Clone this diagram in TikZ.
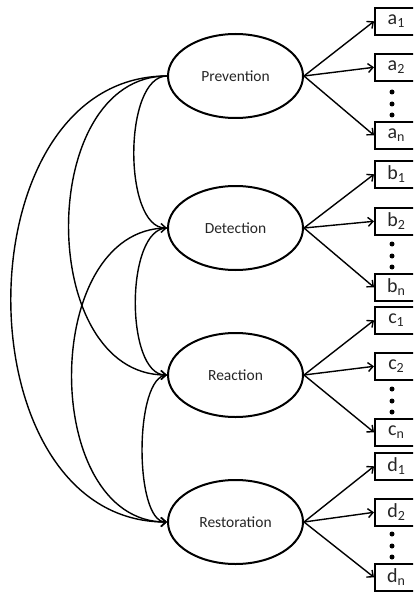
\documentclass[tikz,border=0pt]{standalone}
\usepackage{fontspec}
\setmainfont{Carlito}
\usetikzlibrary{shapes.geometric,arrows.meta}
\begin{document}
\begin{tikzpicture}[x=1pt,y=-1pt,
  factor/.style={draw,ellipse,line width=2pt,minimum width=135pt,minimum height=84pt,inner sep=0pt,font=\fontsize{15.5}{18}\selectfont,text=black!85},
  item/.style={draw,rectangle,line width=1.6pt,minimum width=43pt,minimum height=27pt,inner sep=0pt,anchor=north west,font=\fontsize{20}{22}\selectfont,text=black!85},
  link/.style={line width=1.4pt,-{Straight Barb[length=5pt,width=9pt]}},
  dotmark/.style={circle,fill=black,inner sep=0pt,minimum size=5pt}]
\useasboundingbox (0,0) rectangle (413,596);
\clip (0,0) rectangle (413,596);
\fill[white] (0,0) rectangle (413,596);
% factors
\node[factor] (prev) at (235.5,76) {Prevention};
\node[factor] (det) at (235.5,228) {Detection};
\node[factor] (reac) at (235.5,375) {Reaction};
\node[factor] (rest) at (235.5,522) {Restoration};
% indicator boxes
\node[item] (a1) at (374,7) {a\textsubscript{1}};
\node[item] (a2) at (374,53) {a\textsubscript{2}};
\node[item] (an) at (374,121) {a\textsubscript{n}};
\node[item] (b1) at (374,160) {b\textsubscript{1}};
\node[item] (b2) at (374,207) {b\textsubscript{2}};
\node[item] (bn) at (374,273) {b\textsubscript{n}};
\node[item] (c1) at (374,306) {c\textsubscript{1}};
\node[item] (c2) at (374,352) {c\textsubscript{2}};
\node[item] (cn) at (374,418) {c\textsubscript{n}};
\node[item] (d1) at (374,452) {d\textsubscript{1}};
\node[item] (d2) at (374,498) {d\textsubscript{2}};
\node[item] (dn) at (374,563) {d\textsubscript{n}};
% dots
\foreach \g/\t in {a/121,b/273,c/418,d/563}{
  \node[dotmark] (\g dot1) at (392,\t-29) {};
  \node[dotmark] (\g dot2) at (392,\t-17) {};
  \node[dotmark] (\g dot3) at (392,\t-6) {};
}
% loadings
\foreach \f/\g in {prev/a,det/b,reac/c,rest/d}{
  \draw[link] (\f.east) -- (\g1.west);
  \draw[link] (\f.east) -- (\g2.west);
  \draw[link] (\f.east) -- (\g n.west);
}
% covariances
\draw[link] (prev.west) .. controls +(-44,0) and +(-44,0) .. (det.west);
\draw[link] (det.west) .. controls +(-42,0) and +(-42,0) .. (reac.west);
\draw[link] (reac.west) .. controls +(-33,0) and +(-33,0) .. (rest.west);
\draw[link] (prev.west) .. controls +(-131,0) and +(-131,0) .. (reac.west);
\draw[link] (det.west) .. controls +(-127,0) and +(-127,0) .. (rest.west);
\draw[link] (prev.west) .. controls +(-208,0) and +(-208,0) .. (rest.west);
\end{tikzpicture}
\end{document}
